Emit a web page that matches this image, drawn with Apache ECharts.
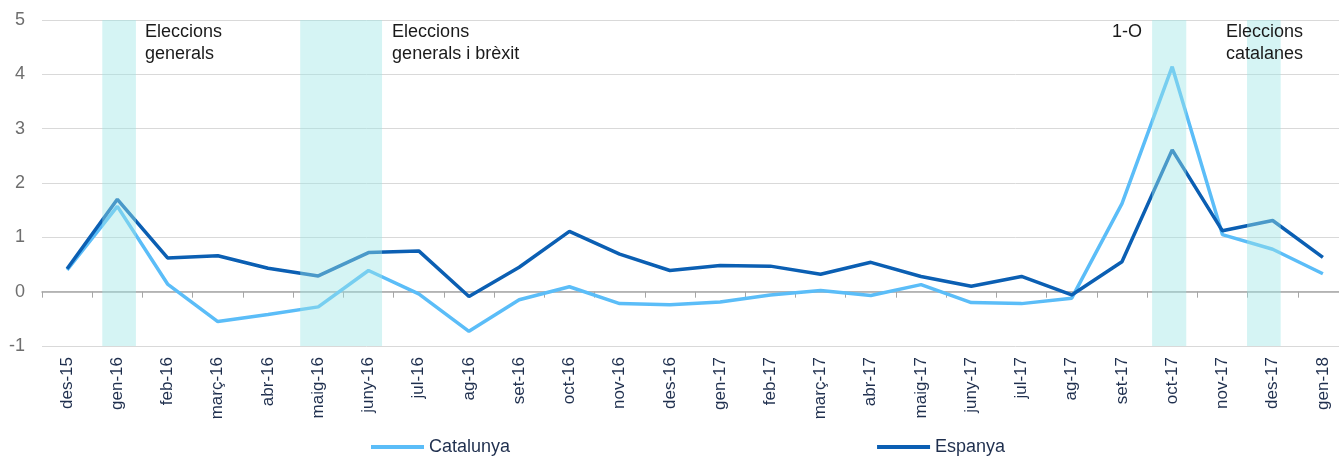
<!DOCTYPE html>
<html>
<head>
<meta charset="utf-8">
<script src="https://cdn.jsdelivr.net/npm/echarts@6/dist/echarts.min.js"></script>
<style>
html,body{margin:0;padding:0;background:#fff;}
#chart{width:1339px;height:459px;}
</style>
</head>
<body>
<div id="chart"></div>
<script>
const categories = ['des-15','gen-16','feb-16','març-16','abr-16','maig-16','juny-16','jul-16','ag-16','set-16','oct-16','nov-16','des-16','gen-17','feb-17','març-17','abr-17','maig-17','juny-17','jul-17','ag-17','set-17','oct-17','nov-17','des-17','gen-18'];
const catalunya = [0.40,1.57,0.14,-0.55,-0.42,-0.28,0.39,-0.04,-0.73,-0.15,0.09,-0.22,-0.24,-0.19,-0.06,0.02,-0.07,0.13,-0.20,-0.22,-0.12,1.62,4.14,1.05,0.78,0.33];
const espanya = [0.42,1.70,0.62,0.66,0.43,0.29,0.72,0.75,-0.09,0.45,1.11,0.69,0.39,0.48,0.47,0.32,0.54,0.28,0.10,0.28,-0.06,0.55,2.61,1.12,1.31,0.63];
const yTicks = {min:-1, max:5, interval:1};
// shaded periods, in category-index units
const bandStart = [0.70, 4.64, 21.60, 23.49];
const bandEnd   = [1.37, 6.27, 22.28, 24.16];
const noteX     = [1.55, 6.47, 20.80, 23.07];
const notes     = ['Eleccions\ngenerals', 'Eleccions\ngenerals i brèxit', '1-O', 'Eleccions\ncatalanes'];

const FONT = '"Liberation Sans", Arial, sans-serif';
const chart = echarts.init(document.getElementById('chart'), null, {renderer:'canvas'});
chart.setOption({
  animation:false,
  backgroundColor:'#fff',
  textStyle:{fontFamily:FONT},
  grid:{left:42, top:20, bottom:113, width:1306, containLabel:false, outerBoundsMode:'none'},
  legend:{
    left:371, top:438, padding:0,
    icon:'rect', itemWidth:53, itemHeight:4, itemGap:367,
    textStyle:{fontFamily:FONT, fontSize:18, color:'#1f2f4e'},
    data:['Catalunya','Espanya']
  },
  xAxis:{
    type:'category', data:categories, boundaryGap:true,
    axisLine:{onZero:true, lineStyle:{color:'#a6a6a6', width:1.5}},
    axisTick:{show:true, length:6, alignWithLabel:false, lineStyle:{color:'#a6a6a6'}},
    axisLabel:{rotate:90, margin:11, fontSize:17, color:'#1f2f4e', fontFamily:FONT, interval:0},
    splitLine:{show:false}
  },
  yAxis:{
    type:'value', min:yTicks.min, max:yTicks.max, interval:yTicks.interval,
    axisLine:{show:false}, axisTick:{show:false},
    axisLabel:{fontSize:18, color:'#6e6e6e', margin:17, fontFamily:FONT},
    splitLine:{lineStyle:{color:'#d9d9d9', width:1}}
  },
  series:[
    {name:'Catalunya', type:'line', data:catalunya, showSymbol:false, symbol:'none',
     lineStyle:{color:'#5bbdf8', width:3.5}, itemStyle:{color:'#5bbdf8'}, z:2},
    {name:'Espanya', type:'line', data:espanya, showSymbol:false, symbol:'none',
     lineStyle:{color:'#0b5fb3', width:3.5}, itemStyle:{color:'#0b5fb3'}, z:3},
    {name:'bands', type:'custom', z:5, silent:true,
     data: bandStart.map((_, i) => [i, 0]),
     renderItem: function(params, api){
       const i = params.dataIndex;
       const bw = api.size([1,0])[0];
       const top = api.coord([0, yTicks.max]);
       const bot = api.coord([0, yTicks.min]);
       const c0 = top[0];
       const x0 = c0 + bandStart[i]*bw;
       const x1 = c0 + bandEnd[i]*bw;
       return {
         type:'group',
         children:[
           {type:'rect', shape:{x:x0, y:top[1], width:x1-x0, height:bot[1]-top[1]},
            style:{fill:'rgba(157,229,229,0.43)'}},
           {type:'text', style:{x:c0 + noteX[i]*bw, y:top[1]+1, text:notes[i],
             fill:'#1a1a1a', font:'18px ' + FONT, lineHeight:22,
             textAlign:'left', textVerticalAlign:'top'}}
         ]
       };
     }}
  ]
});
</script>
</body>
</html>
